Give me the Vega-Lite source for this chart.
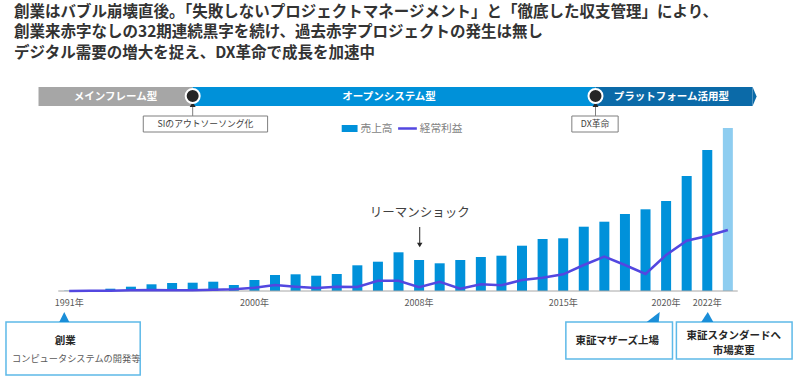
{
  "$schema": "https://vega.github.io/schema/vega-lite/v6.json",
  "width": 800,
  "height": 308,
  "autosize": {"type": "none"},
  "padding": {"left": 0, "top": 70, "right": 0, "bottom": 0},
  "background": "white",
  "title": {
    "text": ["創業はバブル崩壊直後。「失敗しないプロジェクトマネージメント」と「徹底した収支管理」により、", "創業来赤字なしの32期連続黒字を続け、過去赤字プロジェクトの発生は無し", "デジタル需要の増大を捉え、DX革命で成長を加速中"],
    "anchor": "start",
    "frame": "group",
    "dx": 14,
    "offset": 9,
    "fontSize": 15.5,
    "fontWeight": "bold",
    "color": "#333333",
    "lineHeight": 20.5,
    "font": "Noto Sans CJK JP"
  },
  "config": {
    "view": {"stroke": null},
    "text": {"font": "Noto Sans CJK JP"}
  },
  "resolve": {"scale": {"color": "independent"}},
  "layer": [
    {
      "data": {"values": [
        {"label": "メインフレーム型", "start": 1989.51, "end": 1997.0, "top": 204, "bottom": 185},
        {"label": "オープンシステム型", "start": 1997.0, "end": 2016.57, "top": 204, "bottom": 185},
        {"label": "プラットフォーム活用型", "start": 2016.57, "end": 2024.2, "top": 204, "bottom": 185}
      ]},
      "mark": {"type": "rect"},
      "encoding": {
        "x": {"field": "start", "type": "quantitative", "scale": {"domain": [1987.882, 2026.262], "nice": false, "zero": false}, "axis": null},
        "x2": {"field": "end"},
        "y": {"field": "top", "type": "quantitative", "scale": {"domain": [-87, 221], "nice": false, "zero": false}, "axis": null},
        "y2": {"field": "bottom"},
        "color": {"field": "label", "type": "nominal", "scale": {"domain": ["メインフレーム型", "オープンシステム型", "プラットフォーム活用型"], "range": ["#A6A6A6", "#0091D9", "#0B6AA8"]}, "legend": null}
      }
    },
    {
      "data": {"values": [{"label": "矢印", "x": 2024.3, "y": 194.5}]},
      "mark": {"type": "point", "shape": "M-0.21,-1L0.21,0L-0.21,1Z", "filled": true, "opacity": 1, "size": 361, "color": "#0B6AA8"},
      "encoding": {
        "x": {"field": "x", "type": "quantitative", "scale": {"domain": [1987.882, 2026.262], "nice": false, "zero": false}, "axis": null},
        "y": {"field": "y", "type": "quantitative", "scale": {"domain": [-87, 221], "nice": false, "zero": false}, "axis": null}
      }
    },
    {
      "data": {"values": [
        {"label": "メインフレーム型", "x": 1993.25, "y": 194.5},
        {"label": "オープンシステム型", "x": 2006.54, "y": 194.5},
        {"label": "プラットフォーム活用型", "x": 2020.26, "y": 194.5}
      ]},
      "mark": {"type": "text", "color": "white", "fontWeight": "bold", "fontSize": 10.5, "baseline": "middle", "align": "center"},
      "encoding": {
        "x": {"field": "x", "type": "quantitative", "scale": {"domain": [1987.882, 2026.262], "nice": false, "zero": false}, "axis": null},
        "y": {"field": "y", "type": "quantitative", "scale": {"domain": [-87, 221], "nice": false, "zero": false}, "axis": null},
        "text": {"field": "label"}
      }
    },
    {
      "data": {"values": [
        {"event": "SIのアウトソーソング化", "x": 1997.0, "from": 185, "to": 175},
        {"event": "DX革命", "x": 2016.57, "from": 185, "to": 175}
      ]},
      "mark": {"type": "rule", "color": "#7F7F7F", "strokeWidth": 1},
      "encoding": {
        "x": {"field": "x", "type": "quantitative", "scale": {"domain": [1987.882, 2026.262], "nice": false, "zero": false}, "axis": null},
        "y": {"field": "from", "type": "quantitative", "scale": {"domain": [-87, 221], "nice": false, "zero": false}, "axis": null},
        "y2": {"field": "to"}
      }
    },
    {
      "data": {"values": [
        {"event": "SIのアウトソーソング化", "x": 1997.0, "y": 186.5},
        {"event": "DX革命", "x": 2016.57, "y": 186.5}
      ]},
      "mark": {"type": "point", "shape": "triangle-up", "filled": true, "opacity": 1, "size": 36, "color": "#262626"},
      "encoding": {
        "x": {"field": "x", "type": "quantitative", "scale": {"domain": [1987.882, 2026.262], "nice": false, "zero": false}, "axis": null},
        "y": {"field": "y", "type": "quantitative", "scale": {"domain": [-87, 221], "nice": false, "zero": false}, "axis": null}
      }
    },
    {
      "data": {"values": [
        {"event": "SIのアウトソーソング化", "x": 1997.0, "y": 195},
        {"event": "DX革命", "x": 2016.57, "y": 195}
      ]},
      "mark": {"type": "point", "shape": "circle", "filled": true, "opacity": 1, "size": 196, "fill": "#262626", "stroke": "white", "strokeWidth": 2},
      "encoding": {
        "x": {"field": "x", "type": "quantitative", "scale": {"domain": [1987.882, 2026.262], "nice": false, "zero": false}, "axis": null},
        "y": {"field": "y", "type": "quantitative", "scale": {"domain": [-87, 221], "nice": false, "zero": false}, "axis": null}
      }
    },
    {
      "data": {"values": [
        {"event": "SIのアウトソーソング化", "start": 1994.6, "end": 2000.64, "top": 175, "bottom": 159, "mid": 1997.62, "y": 167},
        {"event": "DX革命", "start": 2015.42, "end": 2017.67, "top": 175, "bottom": 159, "mid": 2016.55, "y": 167}
      ]},
      "layer": [
        {
          "mark": {"type": "rect", "fill": "white", "stroke": "#7F7F7F", "strokeWidth": 1},
          "encoding": {
            "x": {"field": "start", "type": "quantitative", "scale": {"domain": [1987.882, 2026.262], "nice": false, "zero": false}, "axis": null},
            "x2": {"field": "end"},
            "y": {"field": "top", "type": "quantitative", "scale": {"domain": [-87, 221], "nice": false, "zero": false}, "axis": null},
            "y2": {"field": "bottom"}
          }
        },
        {
          "mark": {"type": "text", "fontSize": 8.8, "color": "#404040", "baseline": "middle", "align": "center"},
          "encoding": {
            "x": {"field": "mid", "type": "quantitative", "scale": {"domain": [1987.882, 2026.262], "nice": false, "zero": false}, "axis": null},
            "y": {"field": "y", "type": "quantitative", "scale": {"domain": [-87, 221], "nice": false, "zero": false}, "axis": null},
            "text": {"field": "event"}
          }
        }
      ]
    },
    {
      "data": {"values": [{"series": "売上高", "start": 2004.24, "end": 2005.01, "top": 166, "bottom": 159}]},
      "mark": {"type": "rect", "color": "#0091DA"},
      "encoding": {
        "x": {"field": "start", "type": "quantitative", "scale": {"domain": [1987.882, 2026.262], "nice": false, "zero": false}, "axis": null},
        "x2": {"field": "end"},
        "y": {"field": "top", "type": "quantitative", "scale": {"domain": [-87, 221], "nice": false, "zero": false}, "axis": null},
        "y2": {"field": "bottom"}
      }
    },
    {
      "data": {"values": [{"series": "経常利益", "start": 2006.98, "end": 2007.89, "y": 162.5}]},
      "mark": {"type": "rule", "color": "#5347E0", "strokeWidth": 2.5},
      "encoding": {
        "x": {"field": "start", "type": "quantitative", "scale": {"domain": [1987.882, 2026.262], "nice": false, "zero": false}, "axis": null},
        "x2": {"field": "end"},
        "y": {"field": "y", "type": "quantitative", "scale": {"domain": [-87, 221], "nice": false, "zero": false}, "axis": null}
      }
    },
    {
      "data": {"values": [
        {"series": "売上高", "x": 2005.15, "y": 162.5},
        {"series": "経常利益", "x": 2008.03, "y": 162.5}
      ]},
      "mark": {"type": "text", "fontSize": 10.7, "color": "#7F7F7F", "baseline": "middle", "align": "left"},
      "encoding": {
        "x": {"field": "x", "type": "quantitative", "scale": {"domain": [1987.882, 2026.262], "nice": false, "zero": false}, "axis": null},
        "y": {"field": "y", "type": "quantitative", "scale": {"domain": [-87, 221], "nice": false, "zero": false}, "axis": null},
        "text": {"field": "series"}
      }
    },
    {
      "data": {"values": [
        {"year": 1991, "sales": 0.3, "type": "実績"},
        {"year": 1992, "sales": 1, "type": "実績"},
        {"year": 1993, "sales": 2.3, "type": "実績"},
        {"year": 1994, "sales": 4.3, "type": "実績"},
        {"year": 1995, "sales": 6.7, "type": "実績"},
        {"year": 1996, "sales": 8, "type": "実績"},
        {"year": 1997, "sales": 8.3, "type": "実績"},
        {"year": 1998, "sales": 9.3, "type": "実績"},
        {"year": 1999, "sales": 6, "type": "実績"},
        {"year": 2000, "sales": 11, "type": "実績"},
        {"year": 2001, "sales": 16, "type": "実績"},
        {"year": 2002, "sales": 16.7, "type": "実績"},
        {"year": 2003, "sales": 15.3, "type": "実績"},
        {"year": 2004, "sales": 17, "type": "実績"},
        {"year": 2005, "sales": 25.7, "type": "実績"},
        {"year": 2006, "sales": 29.3, "type": "実績"},
        {"year": 2007, "sales": 38.7, "type": "実績"},
        {"year": 2008, "sales": 31, "type": "実績"},
        {"year": 2009, "sales": 27.7, "type": "実績"},
        {"year": 2010, "sales": 31, "type": "実績"},
        {"year": 2011, "sales": 34, "type": "実績"},
        {"year": 2012, "sales": 35.3, "type": "実績"},
        {"year": 2013, "sales": 45.3, "type": "実績"},
        {"year": 2014, "sales": 52, "type": "実績"},
        {"year": 2015, "sales": 52.7, "type": "実績"},
        {"year": 2016, "sales": 64.3, "type": "実績"},
        {"year": 2017, "sales": 69.3, "type": "実績"},
        {"year": 2018, "sales": 77, "type": "実績"},
        {"year": 2019, "sales": 81.7, "type": "実績"},
        {"year": 2020, "sales": 90, "type": "実績"},
        {"year": 2021, "sales": 115, "type": "実績"},
        {"year": 2022, "sales": 141, "type": "実績"},
        {"year": 2023, "sales": 163, "type": "予想"}
      ]},
      "mark": {"type": "bar", "width": 10},
      "encoding": {
        "x": {"field": "year", "type": "quantitative", "scale": {"domain": [1987.882, 2026.262], "nice": false, "zero": false}, "axis": null},
        "y": {"field": "sales", "type": "quantitative", "scale": {"domain": [-87, 221], "nice": false, "zero": false}, "axis": null},
        "y2": {"datum": 0},
        "color": {"field": "type", "type": "nominal", "scale": {"domain": ["実績", "予想"], "range": ["#0091DA", "#8ECDF0"]}, "legend": null}
      }
    },
    {
      "data": {"values": [{"start": 1990.47, "end": 2023.48, "y": 0}]},
      "mark": {"type": "rule", "color": "#A6A6A6", "strokeWidth": 1},
      "encoding": {
        "x": {"field": "start", "type": "quantitative", "scale": {"domain": [1987.882, 2026.262], "nice": false, "zero": false}, "axis": null},
        "x2": {"field": "end"},
        "y": {"field": "y", "type": "quantitative", "scale": {"domain": [-87, 221], "nice": false, "zero": false}, "axis": null}
      }
    },
    {
      "data": {"values": [
        {"year": 1991, "label": "1991年"},
        {"year": 2000, "label": "2000年"},
        {"year": 2008, "label": "2008年"},
        {"year": 2015, "label": "2015年"},
        {"year": 2020, "label": "2020年"},
        {"year": 2022, "label": "2022年"}
      ]},
      "mark": {"type": "text", "fontSize": 9, "color": "#595959", "baseline": "middle", "align": "center"},
      "encoding": {
        "x": {"field": "year", "type": "quantitative", "scale": {"domain": [1987.882, 2026.262], "nice": false, "zero": false}, "axis": null},
        "y": {"datum": -12, "type": "quantitative", "scale": {"domain": [-87, 221], "nice": false, "zero": false}, "axis": null},
        "text": {"field": "label"}
      }
    },
    {
      "data": {"values": [
        {"year": 1991, "profit": 0}, {"year": 1992, "profit": 0.3}, {"year": 1993, "profit": 0.3},
        {"year": 1994, "profit": 0.7}, {"year": 1995, "profit": 1}, {"year": 1996, "profit": 0.7},
        {"year": 1997, "profit": 0.7}, {"year": 1998, "profit": 1.3}, {"year": 1999, "profit": 1.7},
        {"year": 2000, "profit": 3.3}, {"year": 2001, "profit": 6}, {"year": 2002, "profit": 4.3},
        {"year": 2003, "profit": 3}, {"year": 2004, "profit": 4.3}, {"year": 2005, "profit": 4},
        {"year": 2006, "profit": 10.3}, {"year": 2007, "profit": 10.3}, {"year": 2008, "profit": 3.7},
        {"year": 2009, "profit": 9.3}, {"year": 2010, "profit": 2.3}, {"year": 2011, "profit": 6.7},
        {"year": 2012, "profit": 5.7}, {"year": 2013, "profit": 11}, {"year": 2014, "profit": 13.3},
        {"year": 2015, "profit": 16.7}, {"year": 2016, "profit": 26}, {"year": 2017, "profit": 34.3},
        {"year": 2018, "profit": 26}, {"year": 2019, "profit": 17}, {"year": 2020, "profit": 36},
        {"year": 2021, "profit": 50.3}, {"year": 2022, "profit": 55}, {"year": 2023, "profit": 61}
      ]},
      "mark": {"type": "line", "color": "#5347E0", "strokeWidth": 2.5},
      "encoding": {
        "x": {"field": "year", "type": "quantitative", "scale": {"domain": [1987.882, 2026.262], "nice": false, "zero": false}, "axis": null},
        "y": {"field": "profit", "type": "quantitative", "scale": {"domain": [-87, 221], "nice": false, "zero": false}, "axis": null}
      }
    },
    {
      "data": {"values": [{"label": "リーマンショック", "x": 2008.03, "y": 78, "from": 64, "to": 47, "tip": 46}]},
      "layer": [
        {
          "mark": {"type": "text", "fontSize": 12.5, "color": "#404040", "baseline": "middle", "align": "center"},
          "encoding": {
            "x": {"field": "x", "type": "quantitative", "scale": {"domain": [1987.882, 2026.262], "nice": false, "zero": false}, "axis": null},
            "y": {"field": "y", "type": "quantitative", "scale": {"domain": [-87, 221], "nice": false, "zero": false}, "axis": null},
            "text": {"field": "label"}
          }
        },
        {
          "mark": {"type": "rule", "color": "#262626", "strokeWidth": 1},
          "encoding": {
            "x": {"field": "x", "type": "quantitative", "scale": {"domain": [1987.882, 2026.262], "nice": false, "zero": false}, "axis": null},
            "y": {"field": "from", "type": "quantitative", "scale": {"domain": [-87, 221], "nice": false, "zero": false}, "axis": null},
            "y2": {"field": "to"}
          }
        },
        {
          "mark": {"type": "point", "shape": "triangle-down", "filled": true, "opacity": 1, "size": 30, "color": "#262626"},
          "encoding": {
            "x": {"field": "x", "type": "quantitative", "scale": {"domain": [1987.882, 2026.262], "nice": false, "zero": false}, "axis": null},
            "y": {"field": "tip", "type": "quantitative", "scale": {"domain": [-87, 221], "nice": false, "zero": false}, "axis": null}
          }
        }
      ]
    },
    {
      "data": {"values": [
        {"event": "創業", "start": 1987.93, "end": 1994.45, "top": -31, "bottom": -84},
        {"event": "東証マザーズ上場", "start": 2015.13, "end": 2020.31, "top": -31, "bottom": -68},
        {"event": "東証スタンダードへ市場変更", "start": 2020.5, "end": 2026.12, "top": -31, "bottom": -68}
      ]},
      "mark": {"type": "rect", "fill": "white", "stroke": "#5DB9E8", "strokeWidth": 1.5},
      "encoding": {
        "x": {"field": "start", "type": "quantitative", "scale": {"domain": [1987.882, 2026.262], "nice": false, "zero": false}, "axis": null},
        "x2": {"field": "end"},
        "y": {"field": "top", "type": "quantitative", "scale": {"domain": [-87, 221], "nice": false, "zero": false}, "axis": null},
        "y2": {"field": "bottom"}
      }
    },
    {
      "data": {"values": [{"event": "創業", "x": 1990.76, "y": -26}]},
      "mark": {"type": "point", "shape": "M0,-1L1,1L-1,1Z", "filled": true, "opacity": 1, "size": 100, "color": "#1A8ED8"},
      "encoding": {
        "x": {"field": "x", "type": "quantitative", "scale": {"domain": [1987.882, 2026.262], "nice": false, "zero": false}, "axis": null},
        "y": {"field": "y", "type": "quantitative", "scale": {"domain": [-87, 221], "nice": false, "zero": false}, "axis": null}
      }
    },
    {
      "data": {"values": [{"event": "東証マザーズ上場", "x": 2019.35, "y": -26}]},
      "mark": {"type": "point", "shape": "M1.4,-1L1.2,1L-1.2,1Z", "filled": true, "opacity": 1, "size": 100, "color": "#1A8ED8"},
      "encoding": {
        "x": {"field": "x", "type": "quantitative", "scale": {"domain": [1987.882, 2026.262], "nice": false, "zero": false}, "axis": null},
        "y": {"field": "y", "type": "quantitative", "scale": {"domain": [-87, 221], "nice": false, "zero": false}, "axis": null}
      }
    },
    {
      "data": {"values": [{"event": "東証スタンダードへ市場変更", "x": 2022.0, "y": -26}]},
      "mark": {"type": "point", "shape": "M0.1,-1L1.2,1L-1.2,1Z", "filled": true, "opacity": 1, "size": 100, "color": "#1A8ED8"},
      "encoding": {
        "x": {"field": "x", "type": "quantitative", "scale": {"domain": [1987.882, 2026.262], "nice": false, "zero": false}, "axis": null},
        "y": {"field": "y", "type": "quantitative", "scale": {"domain": [-87, 221], "nice": false, "zero": false}, "axis": null}
      }
    },
    {
      "data": {"values": [
        {"text": "創業", "x": 1990.81, "y": -50},
        {"text": "東証マザーズ上場", "x": 2017.63, "y": -50},
        {"text": "東証スタンダードへ", "x": 2023.29, "y": -45},
        {"text": "市場変更", "x": 2023.29, "y": -60}
      ]},
      "mark": {"type": "text", "fontSize": 10.5, "fontWeight": "bold", "color": "#262626", "baseline": "middle", "align": "center"},
      "encoding": {
        "x": {"field": "x", "type": "quantitative", "scale": {"domain": [1987.882, 2026.262], "nice": false, "zero": false}, "axis": null},
        "y": {"field": "y", "type": "quantitative", "scale": {"domain": [-87, 221], "nice": false, "zero": false}, "axis": null},
        "text": {"field": "text"}
      }
    },
    {
      "data": {"values": [{"text": "コンピュータシステムの開発等", "x": 1991.34, "y": -68}]},
      "mark": {"type": "text", "fontSize": 9.2, "color": "#595959", "baseline": "middle", "align": "center"},
      "encoding": {
        "x": {"field": "x", "type": "quantitative", "scale": {"domain": [1987.882, 2026.262], "nice": false, "zero": false}, "axis": null},
        "y": {"field": "y", "type": "quantitative", "scale": {"domain": [-87, 221], "nice": false, "zero": false}, "axis": null},
        "text": {"field": "text"}
      }
    }
  ]
}
